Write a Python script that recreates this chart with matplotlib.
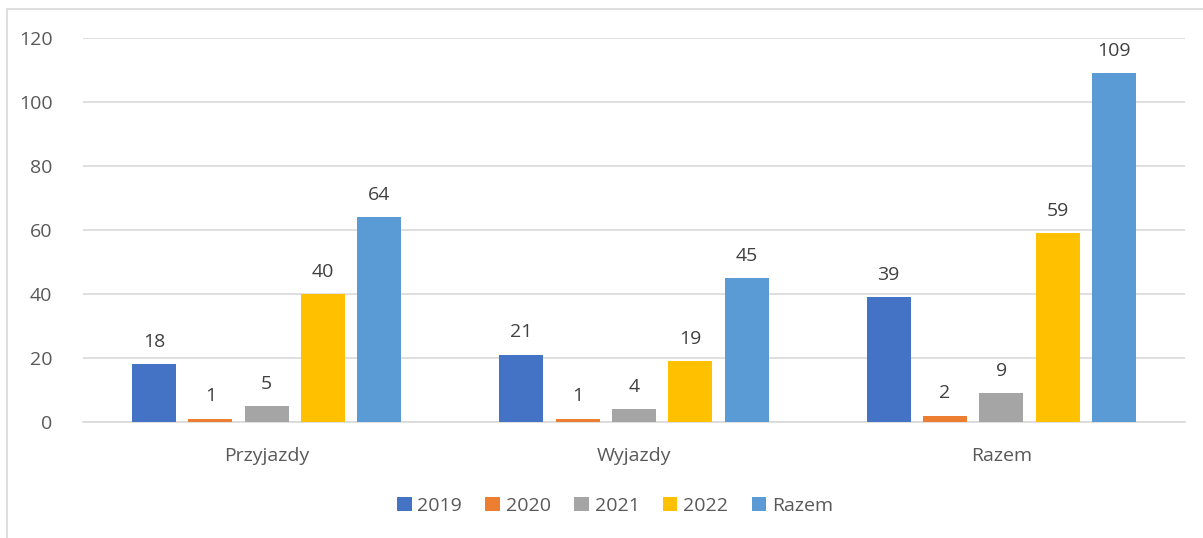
import matplotlib.pyplot as plt
import numpy as np
from matplotlib.patches import Rectangle

categories = ['Przyjazdy', 'Wyjazdy', 'Razem']
series = ['2019', '2020', '2021', '2022', 'Razem']
v2019 = [18, 21, 39]
v2020 = [1, 1, 2]
v2021 = [5, 4, 9]
v2022 = [40, 19, 59]
vrazem = [64, 45, 109]
colors = ['#4472C4', '#ED7D31', '#A5A5A5', '#FFC000', '#5B9BD5']

plt.rcParams['font.family'] = ['Open Sans', 'DejaVu Sans']
txt = '#595959'

fig = plt.figure(figsize=(12.03, 5.38), dpi=100)
W, H = 1203, 538
ax = fig.add_axes([83 / W, 1 - 422 / H, (1185 - 83) / W, (422 - 38) / H])

# chart border
fig.patches.append(Rectangle((7 / W, -0.1), 1.2, 1 - 9 / H + 0.1, transform=fig.transFigure,
                             fill=False, edgecolor='#D9D9D9', linewidth=1.2))

x = np.arange(len(categories))
width = 0.12
pitch = 0.1535
values = [v2019, v2020, v2021, v2022, vrazem]
for i, (name, vals) in enumerate(zip(series, values)):
    pos = x + (i - 2) * pitch
    bars = ax.bar(pos, vals, width, color=colors[i], label=name, zorder=3)
    for b, v in zip(bars, vals):
        ax.text(b.get_x() + b.get_width() / 2, v + 4.2, str(v), ha='center', va='bottom',
                fontsize=14, color='#404040')

ax.set_xlim(-0.5, 2.5)
ax.set_ylim(0, 120)
ax.set_yticks(range(0, 121, 20))
ax.yaxis.grid(True, color='#D9D9D9', linewidth=1.2, zorder=0)
ax.set_xticks(x)
ax.set_xticklabels(categories)
ax.tick_params(axis='both', length=0, labelsize=14, labelcolor=txt)
ax.tick_params(axis='y', pad=22)
ax.tick_params(axis='x', pad=18)
for s in ['top', 'right', 'left']:
    ax.spines[s].set_visible(False)
ax.spines['bottom'].set_color('#D9D9D9')
ax.spines['bottom'].set_linewidth(1.2)

leg = fig.legend(loc='center', bbox_to_anchor=(615 / W, 1 - 506 / H), ncol=5, frameon=False,
                 fontsize=14, handlelength=0.75, handleheight=0.75, handletextpad=0.3,
                 columnspacing=1.2, labelcolor=txt)

fig.savefig('out.png', dpi=100)
